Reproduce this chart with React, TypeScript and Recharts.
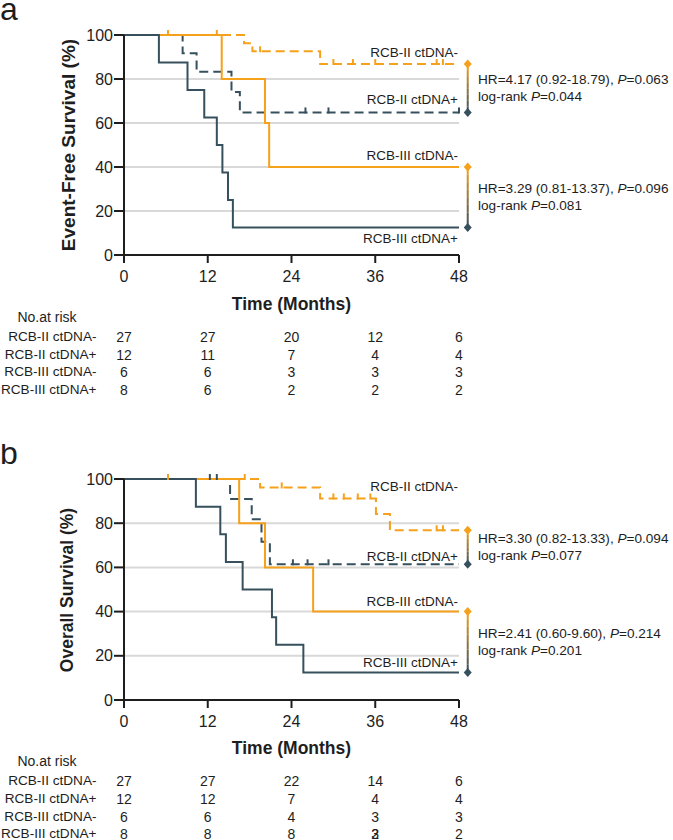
import React from 'react';
import { ComposedChart, Line, Scatter, XAxis, YAxis, ReferenceLine, ReferenceDot } from 'recharts';

const ORANGE = '#F6A11C';
const SLATE = '#36505D';
const INK = '#1e1e1e';
const GRID = '#d9d9d9';
const FONT = 'Arial, "Liberation Sans", Helvetica, sans-serif';

const timeTicks = [0, 12, 24, 36, 48];
const survTicks = [0, 20, 40, 60, 80, 100];
const gridLevels = [20, 40, 60, 80];
const groups = ['RCB-II ctDNA-', 'RCB-II ctDNA+', 'RCB-III ctDNA-', 'RCB-III ctDNA+'];

// a: event-free survival
const efsIINegT = [0, 17.2, 18.4, 28.1, 48];
const efsIINegS = [100, 96.3, 92.6, 86.8, 86.8];
const efsIINegCens = [6.3, 19.5, 30, 32.8, 36, 44.8, 45.7];
const efsIIPosT = [0, 8.4, 10.4, 15.4, 16.6, 48];
const efsIIPosS = [100, 91.7, 83.3, 74.1, 64.8, 64.8];
const efsIIPosCens = [26, 29.3, 48];
const efsIIINegT = [0, 14.0, 20.2, 20.8, 48];
const efsIIINegS = [100, 80, 60, 40, 40];
const efsIIINegCens = [13.3];
const efsIIIPosT = [0, 5.0, 9.1, 11.5, 13.3, 14.1, 14.9, 15.6, 48];
const efsIIIPosS = [100, 87.5, 75, 62.5, 50, 37.5, 25, 12.5, 12.5];
const efsIIIPosCens: number[] = [];

const efsRiskIINeg = ['27', '27', '20', '12', '6'];
const efsRiskIIPos = ['12', '11', '7', '4', '4'];
const efsRiskIIINeg = ['6', '6', '3', '3', '3'];
const efsRiskIIIPos = ['8', '6', '2', '2', '2'];

const efsHR = ['4.17 (0.92-18.79)', '3.29 (0.81-13.37)'];
const efsP = ['0.063', '0.096'];
const efsLogRank = ['0.044', '0.081'];

// b: overall survival
const osIINegT = [0, 19.5, 28.1, 36.1, 38.1, 48];
const osIINegS = [100, 96.2, 91.2, 84.2, 76.8, 76.8];
const osIINegCens = [6.3, 17.3, 22.6, 30, 31.5, 33.5, 35.3, 44.8, 45.7];
const osIIPosT = [0, 15.2, 18.3, 19.7, 20.9, 48];
const osIIPosS = [100, 91, 81.8, 71.6, 61.4, 61.4];
const osIIPosCens = [12.3, 13.3, 24.2, 26.3, 29.3];
const osIIINegT = [0, 16.5, 20.2, 27.1, 48];
const osIIINegS = [100, 80, 60, 40, 40];
const osIIINegCens: number[] = [];
const osIIIPosT = [0, 10.3, 13.8, 14.6, 17.0, 21.2, 21.8, 25.7, 48];
const osIIIPosS = [100, 87.5, 75, 62.5, 50, 37.5, 25, 12.5, 12.5];
const osIIIPosCens: number[] = [];

const osRiskIINeg = ['27', '27', '22', '14', '6'];
const osRiskIIPos = ['12', '12', '7', '4', '4'];
const osRiskIIINeg = ['6', '6', '4', '3', '3'];
const osRiskIIIPos = ['8', '8', '8', '2/3', '2'];

const osHR = ['3.30 (0.82-13.33)', '2.41 (0.60-9.60)'];
const osP = ['0.094', '0.214'];
const osLogRank = ['0.077', '0.201'];

// layout
const PLOT_LEFT = 124;
const PLOT_W = 335;
const PLOT_TOP = 35;
const BRACKET_T = 49.25;

const xOf = (t: number) => PLOT_LEFT + (t * PLOT_W) / 48;

function stepValue(t: number[], s: number[], x: number) {
  let v = s[0];
  for (let i = 0; i < t.length; i++) if (t[i] <= x) v = s[i];
  return v;
}

function mix(a: string, b: string, f: number) {
  const pa = [1, 3, 5].map((i) => parseInt(a.slice(i, i + 2), 16));
  const pb = [1, 3, 5].map((i) => parseInt(b.slice(i, i + 2), 16));
  return 'rgb(' + pa.map((v, i) => Math.round(v + (pb[i] - v) * f)).join(',') + ')';
}

type Curve = { t: number[]; s: number[]; cens: number[]; color: string; dashed: boolean };

const diamond = (color: string) => (p: any) => (
  <path d={`M${p.cx},${p.cy - 4.5}L${p.cx + 4},${p.cy}L${p.cx},${p.cy + 4.5}L${p.cx - 4},${p.cy}Z`} fill={color} />
);

const censorTick = (color: string) => (p: any) => (
  <line x1={p.cx} x2={p.cx} y1={p.cy - 5} y2={p.cy + 1} stroke={color} strokeWidth={2} />
);

function bracketElements(key: string, hi: number, lo: number) {
  const n = 8;
  const out: React.ReactNode[] = [];
  for (let i = 0; i < n; i++) {
    const a = hi - ((hi - lo) * i) / n;
    const b = hi - ((hi - lo) * (i + 1)) / n;
    out.push(
      <ReferenceLine
        key={`${key}-seg${i}`}
        segment={[{ x: BRACKET_T, y: a }, { x: BRACKET_T, y: b }]}
        stroke={mix(ORANGE, SLATE, (i + 0.5) / n)}
        strokeWidth={2}
        ifOverflow="visible"
      />
    );
  }
  out.push(<ReferenceDot key={`${key}-top`} x={BRACKET_T} y={hi} r={4} ifOverflow="visible" shape={diamond(ORANGE)} />);
  out.push(<ReferenceDot key={`${key}-bot`} x={BRACKET_T} y={lo} r={4} ifOverflow="visible" shape={diamond(SLATE)} />);
  return out;
}

const txt = (extra: React.CSSProperties): React.CSSProperties => ({
  position: 'absolute',
  fontFamily: FONT,
  color: INK,
  whiteSpace: 'nowrap',
  lineHeight: 1,
  ...extra,
});

interface PanelProps {
  top: number;
  height: number;
  letter: string;
  yTitle: string;
  yTitleSize: number;
  plotH: number;
  curves: Curve[];
  risk: string[][];
  rowGap: number;
  labelY: number[];
  hr: string[];
  p: string[];
  logRank: string[];
}

function Panel({ top, height, letter, yTitle, yTitleSize, plotH, curves, risk, rowGap, labelY, hr, p, logRank }: PanelProps) {
  const chartH = 300;
  const yOf = (v: number) => PLOT_TOP + ((100 - v) * plotH) / 100;
  const finals = curves.map((c) => c.s[c.s.length - 1]);
  const pairs = [
    [finals[0], finals[1]],
    [finals[2], finals[3]],
  ];
  return (
    <div style={{ position: 'absolute', left: 0, top, width: 673, height, overflow: 'hidden' }}>
      <div style={txt({ left: 0, top: 0, fontSize: 32, lineHeight: '18px' })}>{letter}</div>
      <div style={{ position: 'absolute', left: 0, top: 0 }}>
        <ComposedChart
          width={673}
          height={chartH}
          margin={{ top: PLOT_TOP, right: 673 - PLOT_LEFT - PLOT_W, bottom: chartH - PLOT_TOP - plotH - 30, left: PLOT_LEFT - 60 }}
        >
          <XAxis
            type="number"
            dataKey="t"
            domain={[0, 48]}
            ticks={timeTicks}
            height={30}
            axisLine={{ stroke: INK, strokeWidth: 2 }}
            tickLine={{ stroke: INK, strokeWidth: 2 }}
            tickSize={8}
            tickMargin={8}
            tick={{ fill: INK, fontSize: 16, fontFamily: FONT }}
          />
          <YAxis
            type="number"
            dataKey="s"
            domain={[0, 100]}
            ticks={survTicks}
            width={60}
            axisLine={{ stroke: INK, strokeWidth: 2 }}
            tickLine={{ stroke: INK, strokeWidth: 2 }}
            tickSize={10}
            tickMargin={1}
            tick={{ fill: INK, fontSize: 16, fontFamily: FONT }}
          />
          {gridLevels.map((g) => (
            <ReferenceLine key={`g${g}`} y={g} stroke={GRID} strokeWidth={2} />
          ))}
          {curves.map((c, i) => (
            <Line
              key={`l${i}`}
              data={c.t.map((t, j) => ({ t, s: c.s[j] }))}
              dataKey="s"
              type="stepAfter"
              stroke={c.color}
              strokeWidth={2}
              strokeDasharray={c.dashed ? '9 5' : undefined}
              dot={false}
              activeDot={false}
              isAnimationActive={false}
            />
          ))}
          {curves.map((c, i) => (
            <Scatter
              key={`c${i}`}
              data={c.cens.map((t) => ({ t, s: stepValue(c.t, c.s, t) }))}
              dataKey="s"
              shape={censorTick(c.color)}
              isAnimationActive={false}
            />
          ))}
          {bracketElements('b1', pairs[0][0], pairs[0][1])}
          {bracketElements('b2', pairs[1][0], pairs[1][1])}
        </ComposedChart>
      </div>

      <div
        style={txt({
          left: 68,
          top: PLOT_TOP + plotH / 2,
          fontSize: yTitleSize,
          fontWeight: 'bold',
          transform: 'translate(-50%,-50%) rotate(-90deg)',
        })}
      >
        {yTitle}
      </div>
      <div style={txt({ left: PLOT_LEFT + PLOT_W / 2, top: 305, fontSize: 17.5, fontWeight: 'bold', transform: 'translate(-50%,-50%)' })}>
        Time (Months)
      </div>

      {groups.map((g, i) => (
        <div key={`lab${i}`} style={txt({ left: 458, top: labelY[i], fontSize: 13.5, transform: 'translate(-100%,-50%)' })}>
          {g}
        </div>
      ))}

      {pairs.map((pr, i) => (
        <div
          key={`hr${i}`}
          style={txt({ left: 478, top: yOf((pr[0] + pr[1]) / 2), fontSize: 13.6, lineHeight: '17px', transform: 'translate(0,-50%)' })}
        >
          <div>
            HR={hr[i]}, <i>P</i>={p[i]}
          </div>
          <div>
            log-rank <i>P</i>={logRank[i]}
          </div>
        </div>
      ))}

      <div style={txt({ left: 47, top: 317, fontSize: 14, transform: 'translate(-50%,-50%)' })}>No.at risk</div>
      {groups.map((g, i) => (
        <div key={`rl${i}`} style={txt({ left: 96.5, top: 337 + i * rowGap, fontSize: 13.6, transform: 'translate(-100%,-50%)' })}>
          {g}
        </div>
      ))}
      {risk.map((row, i) =>
        row.map((v, j) =>
          v.split('/').map((part, k) => (
            <div
              key={`r${i}-${j}-${k}`}
              style={txt({ left: xOf(timeTicks[j]), top: 337 + i * rowGap, fontSize: 14, transform: 'translate(-50%,-50%)' })}
            >
              {part}
            </div>
          ))
        )
      )}
    </div>
  );
}

export default function App() {
  const efsCurves: Curve[] = [
    { t: efsIINegT, s: efsIINegS, cens: efsIINegCens, color: ORANGE, dashed: true },
    { t: efsIIPosT, s: efsIIPosS, cens: efsIIPosCens, color: SLATE, dashed: true },
    { t: efsIIINegT, s: efsIIINegS, cens: efsIIINegCens, color: ORANGE, dashed: false },
    { t: efsIIIPosT, s: efsIIIPosS, cens: efsIIIPosCens, color: SLATE, dashed: false },
  ];
  const osCurves: Curve[] = [
    { t: osIINegT, s: osIINegS, cens: osIINegCens, color: ORANGE, dashed: true },
    { t: osIIPosT, s: osIIPosS, cens: osIIPosCens, color: SLATE, dashed: true },
    { t: osIIINegT, s: osIIINegS, cens: osIIINegCens, color: ORANGE, dashed: false },
    { t: osIIIPosT, s: osIIIPosS, cens: osIIIPosCens, color: SLATE, dashed: false },
  ];

  return (
    <div style={{ position: 'absolute', left: 0, top: 0, width: 673, height: 840, overflow: 'hidden', background: '#fff' }}>
      <Panel
        top={0}
        height={444}
        letter="a"
        yTitle="Event-Free Survival (%)"
        yTitleSize={19}
        plotH={220}
        curves={efsCurves}
        risk={[efsRiskIINeg, efsRiskIIPos, efsRiskIIINeg, efsRiskIIIPos]}
        rowGap={17.5}
        labelY={[53, 100, 156, 239]}
        hr={efsHR}
        p={efsP}
        logRank={efsLogRank}
      />
      <Panel
        top={444}
        height={396}
        letter="b"
        yTitle="Overall Survival (%)"
        yTitleSize={17.5}
        plotH={221}
        curves={osCurves}
        risk={[osRiskIINeg, osRiskIIPos, osRiskIIINeg, osRiskIIIPos]}
        rowGap={17.8}
        labelY={[43, 113, 158, 219]}
        hr={osHR}
        p={osP}
        logRank={osLogRank}
      />
    </div>
  );
}
